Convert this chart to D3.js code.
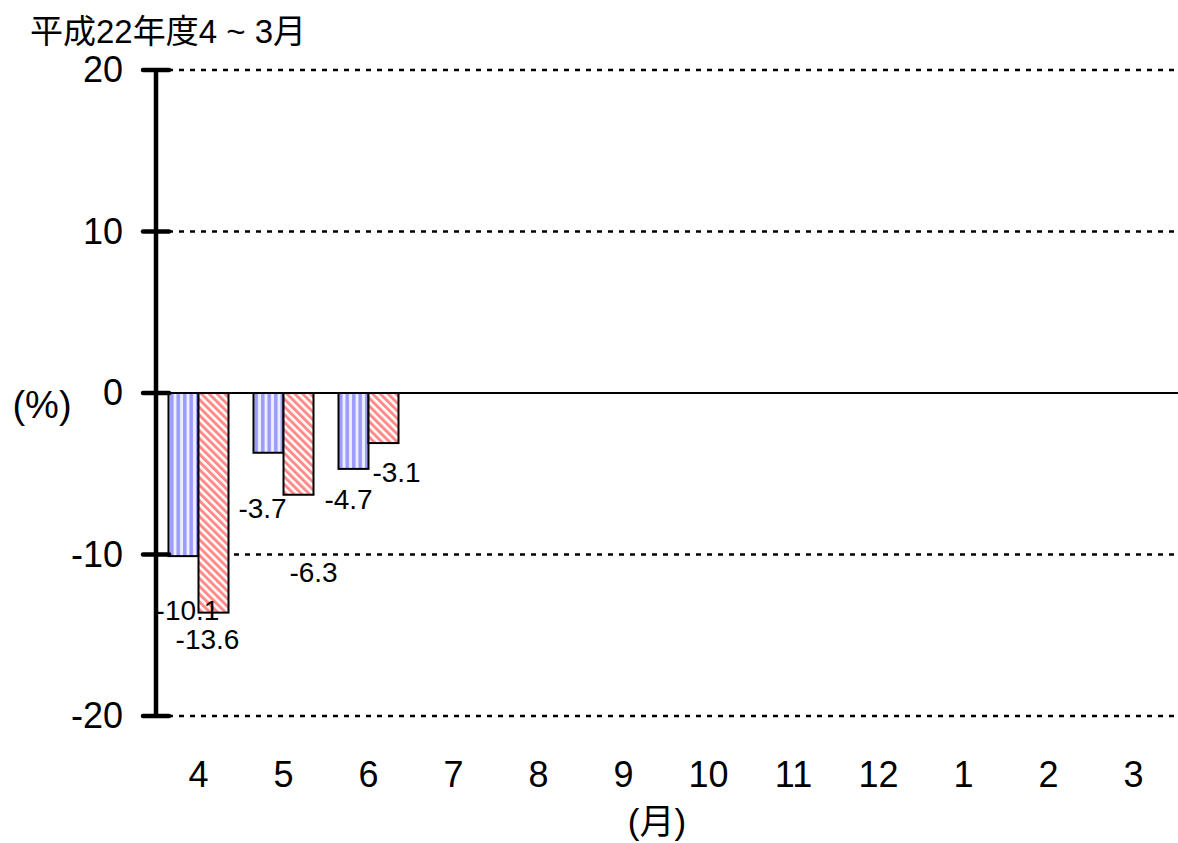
<!DOCTYPE html>
<html>
<head>
<meta charset="utf-8">
<script src="https://cdn.jsdelivr.net/npm/d3@7"></script>
<style>
  body { margin: 0; background: #fff; }
  svg { display: block; font-family: "Liberation Sans", Arial, "Noto Sans CJK JP", sans-serif; }
</style>
</head>
<body>
<svg width="1178" height="843"></svg>
<script>
// data
const months = ["4", "5", "6", "7", "8", "9", "10", "11", "12", "1", "2", "3"];
const seriesA = [-10.1, -3.7, -4.7, null, null, null, null, null, null, null, null, null];
const seriesB = [-13.6, -6.3, -3.1, null, null, null, null, null, null, null, null, null];
const yTicks = [-20, -10, 0, 10, 20];

// label nudges (Excel placed them a bit randomly)
const nudgeA = [[-11, 54], [-21, 55], [-20, 30]];
const nudgeB = [[9, 27], [30, 77], [28, 29]];

const svg = d3.select("svg");

const x = d3.scaleBand().domain(months).range([156, 1176]);
const y = d3.scaleLinear().domain([-20, 20]).range([716, 70]);
const axisX = 156;

const defs = svg.append("defs");
const pa = defs.append("pattern").attr("id", "vstripe")
    .attr("patternUnits", "userSpaceOnUse").attr("width", 6.5).attr("height", 6);
pa.append("rect").attr("width", 6.5).attr("height", 6).attr("fill", "#eeeeff");
pa.append("rect").attr("x", 1).attr("width", 3.5).attr("height", 6).attr("fill", "#9a9aff");

const pb = defs.append("pattern").attr("id", "dstripe")
    .attr("patternUnits", "userSpaceOnUse").attr("width", 5.5).attr("height", 5.5)
    .attr("patternTransform", "rotate(-45)");
pb.append("rect").attr("width", 5.5).attr("height", 5.5).attr("fill", "#fff");
pb.append("rect").attr("width", 3).attr("height", 5.5).attr("fill", "#ff8a8a");

// grid
svg.append("g").selectAll("line")
  .data(yTicks.filter(d => d !== 0))
  .join("line")
    .attr("x1", axisX + 12).attr("x2", 1178)
    .attr("y1", d => y(d)).attr("y2", d => y(d))
    .attr("stroke", "#000").attr("stroke-width", 2.5)
    .attr("stroke-dasharray", "5,6");

// bars
const bw = 30;
function drawBars(vals, fill, off) {
  svg.append("g").selectAll("rect")
    .data(vals.map((v, i) => ({ m: months[i], v })).filter(d => d.v != null))
    .join("rect")
      .attr("x", d => x(d.m) + x.bandwidth() / 2 + off)
      .attr("y", d => Math.min(y(0), y(d.v)))
      .attr("width", bw)
      .attr("height", d => Math.abs(y(d.v) - y(0)))
      .attr("fill", fill)
      .attr("stroke", "#000").attr("stroke-width", 2);
}
drawBars(seriesA, "url(#vstripe)", -bw);
drawBars(seriesB, "url(#dstripe)", 0);

// zero line
svg.append("line")
  .attr("x1", axisX).attr("x2", 1178)
  .attr("y1", y(0)).attr("y2", y(0))
  .attr("stroke", "#000").attr("stroke-width", 2);

// y axis
const yAxis = svg.append("g").attr("transform", `translate(${axisX},0)`)
  .call(d3.axisLeft(y).tickValues(yTicks).tickFormat(d => String(d)).tickSize(0).tickPadding(33));
yAxis.select(".domain").remove();
yAxis.selectAll("text").attr("font-size", 36).attr("font-family", "Liberation Sans, Arial, sans-serif").attr("fill", "#000");
yAxis.append("line").attr("y1", y(20)).attr("y2", y(-20))
  .attr("stroke", "#000").attr("stroke-width", 4.5);
yAxis.selectAll(".mtick").data(yTicks).join("line").attr("class", "mtick")
  .attr("x1", -13).attr("x2", 13)
  .attr("y1", d => y(d)).attr("y2", d => y(d))
  .attr("stroke", "#000").attr("stroke-width", 4.5).attr("stroke-linecap", "round");

// x axis labels
const xAxis = svg.append("g").attr("transform", "translate(0,774)")
  .call(d3.axisBottom(x).tickSize(0).tickPadding(0));
xAxis.select(".domain").remove();
xAxis.selectAll("text").attr("font-size", 36).attr("dy", "0.35em")
  .attr("font-family", "Liberation Sans, Arial, sans-serif").attr("fill", "#000");

// value labels
function drawLabels(vals, nudge) {
  svg.append("g").selectAll("text")
    .data(vals.map((v, i) => ({ m: months[i], v, i })).filter(d => d.v != null))
    .join("text")
      .attr("x", d => x(d.m) + x.bandwidth() / 2 + nudge[d.i][0])
      .attr("y", d => y(d.v) + nudge[d.i][1])
      .attr("dy", "0.35em")
      .attr("text-anchor", "middle")
      .attr("font-size", 28)
      .text(d => d.v.toFixed(1));
}
drawLabels(seriesA, nudgeA);
drawLabels(seriesB, nudgeB);

// titles
svg.append("text").attr("x", 30).attr("y", 43).attr("font-size", 33)
  .text("平成22年度4 ~ 3月");
svg.append("text").attr("x", 42).attr("y", 405).attr("dy", "0.35em")
  .attr("text-anchor", "middle").attr("font-size", 38).text("(%)");
svg.append("text").attr("x", 657).attr("y", 822).attr("dy", "0.35em")
  .attr("text-anchor", "middle").attr("font-size", 35).text("(月)");
</script>
</body>
</html>
